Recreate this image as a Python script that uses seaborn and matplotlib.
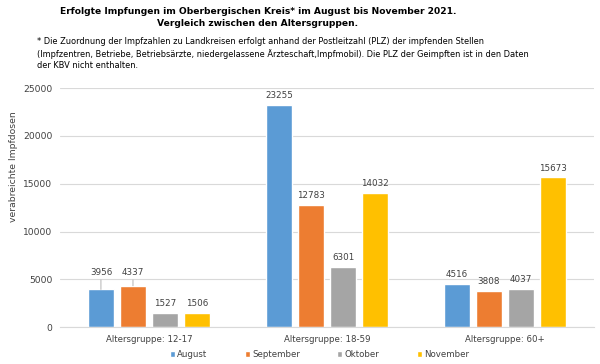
import seaborn as sns
import pandas as pd
import matplotlib.pyplot as plt

groups = ["Altersgruppe: 12-17", "Altersgruppe: 18-59", "Altersgruppe: 60+"]
months = ["August", "September", "Oktober", "November"]
august = [3956, 23255, 4516]
september = [4337, 12783, 3808]
oktober = [1527, 6301, 4037]
november = [1506, 14032, 15673]
colors = ["#5B9BD5", "#ED7D31", "#A5A5A5", "#FFC000"]

rows = []
for m, vals in zip(months, [august, september, oktober, november]):
    for g, v in zip(groups, vals):
        rows.append({"Gruppe": g, "Monat": m, "Impfdosen": v})
df = pd.DataFrame(rows)

sns.set_style("white")
plt.rcParams["font.family"] = ["DejaVu Sans"]
txt = "#404040"

fig = plt.figure(figsize=(6, 3.64), dpi=100)
ax = fig.add_axes([0.1, 0.1008, 0.89, 0.657])

sns.barplot(data=df, x="Gruppe", y="Impfdosen", hue="Monat", order=groups,
            hue_order=months, palette=colors, width=0.72, gap=0.2,
            saturation=1, ax=ax, legend=True)

# labels; the first two in group 1 are lifted above the gridline with a leader line
for i, c in enumerate(ax.containers):
    for j, bar in enumerate(c.patches):
        h = bar.get_height()
        cx = bar.get_x() + bar.get_width() / 2
        if j == 0 and i < 2:
            ax.annotate(f"{h:.0f}", xy=(cx, h), xytext=(cx, 5300),
                        ha="center", va="bottom", fontsize=6.3, color=txt,
                        arrowprops=dict(arrowstyle="-", color="#A6A6A6",
                                        lw=0.6, shrinkA=0, shrinkB=0))
        else:
            ax.annotate(f"{h:.0f}", xy=(cx, h), xytext=(0, 3.5),
                        textcoords="offset points", ha="center", va="bottom",
                        fontsize=6.3, color=txt)

ax.set_xlim(-0.5, 2.5)
ax.set_ylim(0, 25000)
ax.set_yticks(range(0, 25001, 5000))
ax.yaxis.grid(True, color="#D9D9D9", linewidth=0.8)
ax.set_axisbelow(True)
for s in ["top", "right", "left"]:
    ax.spines[s].set_visible(False)
ax.spines["bottom"].set_color("#D9D9D9")
ax.tick_params(axis="y", length=0, labelsize=6.6, colors=txt, pad=5.5)
ax.tick_params(axis="x", length=0, labelsize=6.2, colors=txt, pad=5.5)
ax.set_xlabel("")
ax.set_ylabel("verabreichte Impfdosen", fontsize=6.7, color=txt)
ax.yaxis.set_label_coords(-0.079, 0.67)

handles, labels = ax.get_legend_handles_labels()
ax.get_legend().remove()
fig.legend(handles, labels, loc="center", bbox_to_anchor=(0.5325, 0.0255),
           ncol=4, frameon=False, fontsize=6.2, handlelength=0.6,
           handleheight=0.6, columnspacing=4.3, handletextpad=0.3,
           labelcolor=txt, borderaxespad=0, borderpad=0)

fig.text(0.43, 0.982, "Erfolgte Impfungen im Oberbergischen Kreis* im August bis November 2021.\nVergleich zwischen den Altersgruppen.",
         ha="center", va="top", fontsize=6.6, fontweight="bold", color="black",
         linespacing=1.45)
fig.text(0.062, 0.897, "* Die Zuordnung der Impfzahlen zu Landkreisen erfolgt anhand der Postleitzahl (PLZ) der impfenden Stellen\n"
         "(Impfzentren, Betriebe, Betriebsärzte, niedergelassene Ärzteschaft,Impfmobil). Die PLZ der Geimpften ist in den Daten\n"
         "der KBV nicht enthalten.",
         ha="left", va="top", fontsize=5.95, color="black", linespacing=1.32)

fig.savefig("out.png", dpi=100)
